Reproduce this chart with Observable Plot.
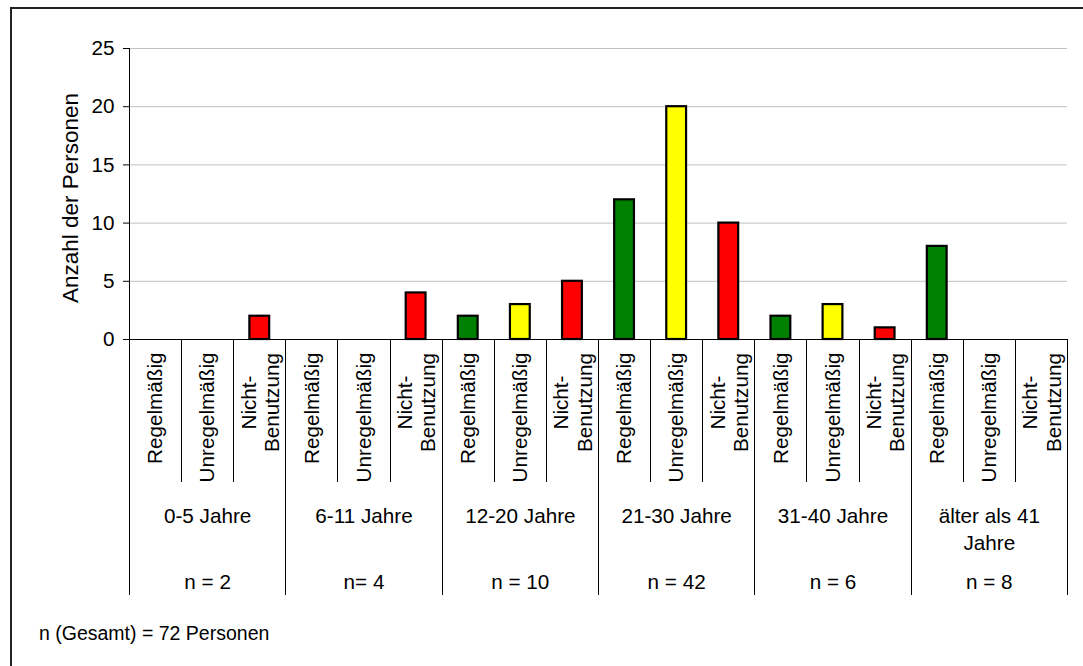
<!DOCTYPE html>
<html>
<head>
<meta charset="utf-8">
<script src="https://cdn.jsdelivr.net/npm/d3@7"></script>
<script src="https://cdn.jsdelivr.net/npm/@observablehq/plot@0.6"></script>
<style>
  html, body { margin: 0; padding: 0; background: #fff; }
  #frame { position: relative; width: 1083px; height: 666px; overflow: hidden; background: #fff;
           font-family: Arial, "Liberation Sans", sans-serif; }
  #border { position: absolute; left: 10px; top: 7px; width: 1200px; height: 800px;
            border-left: 2px solid #222; border-top: 2px solid #222; pointer-events: none; }
  #chart { position: absolute; left: 0; top: 0; }
  #footer { position: absolute; left: 39px; top: 622px; font-size: 19.5px; color: #000; white-space: pre; }
</style>
</head>
<body>
<div id="frame">
  <div id="chart"></div>
  <div id="footer"></div>
  <div id="border"></div>
</div>
<script>
// Age groups, group sizes and usage categories
const ageGroups = ["0-5 Jahre", "6-11 Jahre", "12-20 Jahre", "21-30 Jahre", "31-40 Jahre", "älter als 41\nJahre"];
const groupCounts = ["n = 2", "n= 4", "n = 10", "n = 42", "n = 6", "n = 8"];
const usageTypes = ["Regelmäßig", "Unregelmäßig", "Nicht-\nBenutzung"];
const usageColors = ["#008000", "#ffff00", "#ff0000"];

// Number of persons per age group, one array per usage category
const regelmaessig   = [0, 0, 2, 12, 2, 8];
const unregelmaessig = [0, 0, 3, 20, 3, 0];
const nichtBenutzung = [2, 4, 5, 10, 1, 0];

const yTicks = [0, 5, 10, 15, 20, 25];
const yTitle = "Anzahl der Personen";
const footerText = "n (Gesamt) = 72 Personen";

// One slot per (age group, usage) pair
const series = [regelmaessig, unregelmaessig, nichtBenutzung];
const slots = [];
ageGroups.forEach((group, g) => {
  usageTypes.forEach((usage, u) => {
    slots.push({slot: g * usageTypes.length + u, group, usage, value: series[u][g]});
  });
});
const slotCount = slots.length;
const groupSize = usageTypes.length;
const boundaries = d3.range(slotCount + 1);

// Category separators below the x axis: short ones between usages, long ones between age groups
function separators(index, scales) {
  const g = d3.create("svg:g").attr("stroke", "#000").attr("stroke-width", 1).attr("shape-rendering", "crispEdges");
  const y0 = scales.y(0);
  for (const b of boundaries) {
    const px = Math.round(scales.x(b)) + 0.5;
    g.append("line")
      .attr("x1", px).attr("x2", px)
      .attr("y1", y0).attr("y2", y0 + (b % groupSize === 0 ? 256 : 143));
  }
  return g.node();
}

const font = 20.7;
const chart = Plot.plot({
  width: 1083,
  height: 610,
  marginLeft: 129,
  marginRight: 16,
  marginTop: 48,
  marginBottom: 271,
  style: {fontFamily: 'Arial, "Liberation Sans", sans-serif', fontSize: `${font}px`, background: "transparent", color: "#000", overflow: "visible"},
  x: {type: "linear", domain: [0, slotCount], axis: null},
  y: {domain: [0, 25], axis: null},
  color: {domain: usageTypes, range: usageColors},
  marks: [
    Plot.gridY(yTicks.filter(d => d > 0), {stroke: "#c0c0c0", strokeOpacity: 1, strokeWidth: 1}),
    Plot.axisY(yTicks, {tickSize: 6, tickPadding: 9, label: null, fontSize: font, stroke: "#000"}),
    Plot.ruleX([0], {stroke: "#000", strokeWidth: 1}),
    Plot.rect(slots.filter(d => d.value > 0), {
      x1: d => d.slot + 0.31,
      x2: d => d.slot + 0.69,
      y1: 0,
      y2: "value",
      fill: "usage",
      stroke: "#000",
      strokeWidth: 2.2
    }),
    Plot.ruleY([0], {stroke: "#000", strokeWidth: 1}),
    separators,
    // usage labels, rotated
    Plot.text(slots.filter(d => !d.usage.includes("\n")), {
      x: d => d.slot + 0.5, text: "usage", frameAnchor: "bottom",
      rotate: -90, textAnchor: "end", lineAnchor: "middle", dy: 13, fontSize: font
    }),
    Plot.text(slots.filter(d => d.usage.includes("\n")), {
      x: d => d.slot + 0.5, text: "usage", frameAnchor: "bottom",
      rotate: -90, textAnchor: "middle", lineAnchor: "middle", lineHeight: 1.13, dy: 63, fontSize: font
    }),
    // age group labels
    Plot.text(ageGroups, {
      x: (d, i) => i * groupSize + groupSize / 2, text: d => d, frameAnchor: "bottom",
      lineAnchor: "top", lineHeight: 1.32, dy: 164, fontSize: font
    }),
    // group sizes
    Plot.text(groupCounts, {
      x: (d, i) => i * groupSize + groupSize / 2, text: d => d, frameAnchor: "bottom",
      lineAnchor: "middle", dy: 243, fontSize: font
    }),
    // y axis title
    Plot.text([yTitle], {frameAnchor: "left", rotate: -90, textAnchor: "middle", lineAnchor: "middle", dx: -59, dy: 4, fontSize: 22.5})
  ]
});
document.getElementById("chart").appendChild(chart);
document.getElementById("footer").textContent = footerText;
</script>
</body>
</html>
